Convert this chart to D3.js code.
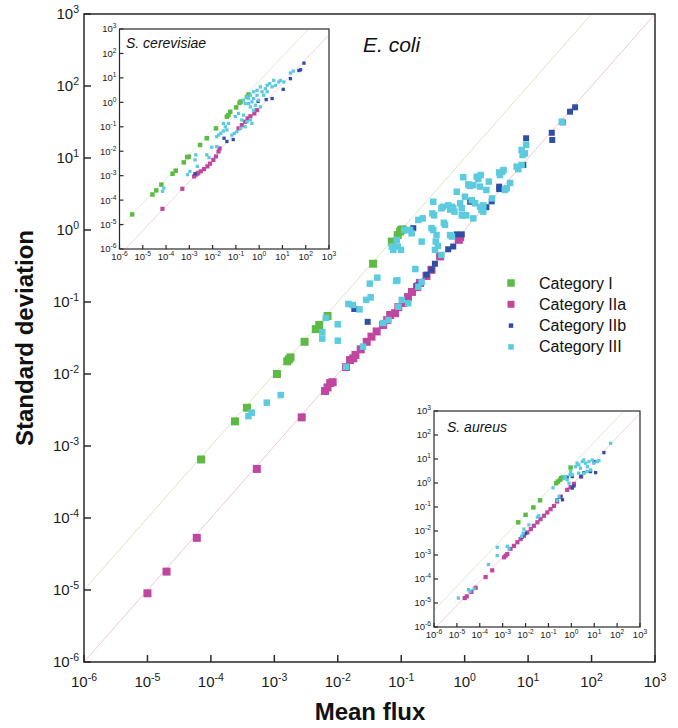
<!DOCTYPE html>
<meta charset="utf-8">
<body style="margin:0">
<script src="https://d3js.org/d3.v7.min.js"></script>
<script>

// Canvas size of the figure.

var width = 678,
    height = 728;

// Decade exponents used for ticks on every panel (10^-6 .. 10^3).

var tickExponents = [-6, -5, -4, -3, -2, -1, 0, 1, 2, 3];

var categories = ["Category I", "Category IIa", "Category IIb", "Category III"];

// E. coli (main panel): [mean flux, standard deviation]

var ecoliI = [[7e-5, 6.5e-4], [2.4e-4, 2.2e-3], [3.7e-4, 3.4e-3], [1.1e-3, 1.0e-2], [1.6e-3, 1.5e-2],
    [1.7e-3, 1.6e-2], [1.8e-3, 1.7e-2], [3.0e-3, 2.8e-2], [4.5e-3, 4.2e-2], [5.1e-3, 4.8e-2],
    [6.9e-3, 6.4e-2], [3.6e-2, 0.34], [7.1e-2, 0.69], [8.8e-2, 0.85], [9.6e-2, 0.95], [0.10, 1.0], [0.105, 1.02]];

var ecoliIIa = [[1.0e-5, 9.0e-6], [2.0e-5, 1.8e-5], [6.0e-5, 5.3e-5], [5.3e-4, 4.8e-4], [2.7e-3, 2.5e-3],
    [6.3e-3, 5.8e-3], [6.9e-3, 6.5e-3], [7.6e-3, 7.5e-3], [8.3e-3, 7.7e-3], [1.35e-2, 1.25e-2],
    [1.56e-2, 1.56e-2], [1.76e-2, 1.65e-2], [1.9e-2, 1.84e-2], [2.3e-2, 2.2e-2], [2.86e-2, 2.8e-2],
    [3.4e-2, 3.3e-2], [4.1e-2, 3.9e-2], [5.2e-2, 4.8e-2], [6.0e-2, 5.6e-2], [6.7e-2, 6.6e-2],
    [8.0e-2, 7.0e-2], [9.0e-2, 8.5e-2], [0.107, 0.097], [0.128, 0.117], [0.148, 0.138], [0.177, 0.161],
    [0.198, 0.184], [0.25, 0.23], [0.3, 0.28], [0.41, 0.43], [0.81, 0.73], [0.85, 0.8]];

var ecoliIIb = [[1.82e-2, 8.0e-2], [2.96e-2, 5.3e-2], [0.155, 1.06], [0.18, 0.17], [0.25, 0.24], [0.3, 0.28],
    [0.34, 0.34], [0.55, 0.54], [0.66, 0.59], [0.75, 0.87], [0.9, 0.87], [1.22, 2.47], [2.2, 2.07],
    [2.67, 2.5], [3.5, 3.7], [3.5, 4.0], [8.4, 8.0], [9.3, 18.8], [23.6, 22.4], [24, 17.8], [35, 31.3],
    [45.8, 44], [55, 50.6]];

var ecoliIII = [[3.9e-4, 2.6e-3], [4.4e-4, 2.9e-3], [7.6e-4, 4.0e-3], [1.26e-3, 5.1e-3], [5.7e-3, 3.8e-2],
    [5.7e-3, 3.1e-2], [6.5e-3, 6.0e-2], [1.0e-2, 4.9e-2], [1.0e-2, 2.9e-2], [1.35e-2, 1.26e-2],
    [1.47e-2, 9.4e-2], [1.72e-2, 9.1e-2], [2.2e-2, 7.9e-2], [2.5e-2, 2.4e-2], [2.8e-2, 0.107],
    [3.3e-2, 0.116], [3.2e-2, 0.18], [4.2e-2, 0.218], [5.2e-2, 5.1e-2], [6.3e-2, 5.6e-2], [8.3e-2, 0.196],
    [8.7e-2, 0.2], [9.0e-2, 8.6e-2], [0.102, 0.107], [0.129, 0.096], [0.167, 0.287], [0.186, 0.163],
    [0.21, 0.19], [7.1e-2, 0.59], [7.5e-2, 0.53], [8.5e-2, 0.73], [8.8e-2, 0.59], [0.099, 0.53],
    [0.112, 1.0], [0.138, 1.0], [0.146, 0.9], [0.186, 1.38], [0.21, 0.69], [0.218, 1.45], [0.30, 1.06],
    [0.32, 1.0], [0.36, 0.85], [0.35, 0.69], [0.38, 0.6], [0.34, 0.53], [0.43, 0.45], [0.32, 2.47],
    [0.31, 1.7], [0.33, 1.6], [0.43, 2.0], [0.45, 2.1], [0.47, 1.26], [0.49, 1.18], [0.55, 2.2],
    [0.63, 2.1], [0.59, 1.92], [0.66, 2.0], [0.69, 1.8], [0.59, 0.85], [0.63, 0.81], [0.75, 3.4],
    [0.85, 2.35], [0.9, 2.0], [0.95, 5.4], [1.01, 2.9], [0.9, 1.6], [0.95, 1.6], [1.06, 1.6], [1.14, 4.3],
    [1.21, 4.1], [1.37, 4.2], [1.29, 2.6], [1.46, 2.35], [1.37, 1.45], [1.55, 5.5], [1.64, 5.1],
    [1.79, 5.8], [1.75, 4.0], [1.97, 2.2], [1.75, 2.1], [2.2, 3.6], [2.4, 4.7], [1.85, 1.9], [1.97, 1.8],
    [2.7, 2.75], [3.5, 6.3], [3.6, 5.8], [4.1, 6.8], [3.9, 6.4], [4.6, 3.8], [4.3, 3.6], [5.2, 4.5],
    [6.6, 7.6], [7.0, 7.0], [7.9, 8.0], [8.2, 11.0], [8.9, 11.6], [7.9, 12.9], [9.3, 15.2], [33.9, 31.9]];

// S. cerevisiae (upper inset)

var cerevI = [[3.5e-6, 2.6e-5], [2.6e-5, 1.7e-4], [3.8e-5, 2.5e-4], [6.3e-5, 4.3e-4], [1.9e-4, 1.2e-3],
    [2.6e-4, 1.6e-3], [5.8e-4, 3.5e-3], [8.1e-4, 5.7e-3], [9.5e-4, 6.0e-3], [2.9e-3, 1.8e-2],
    [5.6e-3, 3.4e-2], [1.4e-2, 8.6e-2], [4.1e-2, 0.26], [4.8e-2, 0.3], [5.7e-2, 0.41], [0.103, 0.62],
    [0.144, 0.95], [0.16, 1.07], [0.30, 1.67], [0.35, 2.1]];

var cerevIIa = [[7e-5, 4.4e-5], [5e-4, 2.9e-4], [1.6e-3, 9.3e-4], [1.9e-3, 1.1e-3], [2.2e-3, 1.2e-3],
    [2.4e-3, 1.3e-3], [3.1e-3, 1.5e-3], [4.3e-3, 1.85e-3], [6.0e-3, 2.4e-3], [7.8e-3, 3.1e-3],
    [1.08e-2, 4.4e-3], [1.4e-2, 6.1e-3], [1.8e-2, 9.7e-3], [2.0e-2, 1.3e-2], [0.13, 8.6e-2],
    [0.18, 0.117], [0.25, 0.16], [0.32, 0.22], [0.42, 0.27], [0.62, 0.35], [0.81, 0.48]];

var cerevIIb = [[1.75e-3, 1.2e-3], [3.1e-2, 3.4e-2], [4.1e-2, 2.5e-2], [7.7e-2, 3.0e-2], [0.9, 1.1],
    [2.0, 1.3], [3.6, 1.43], [10.8, 3.4], [22, 9.3], [51, 20], [60, 21.5], [84, 40]];

var cerevIII = [[7e-5, 2.3e-4], [8e-5, 3.1e-4], [8.4e-4, 1.1e-3], [1.06e-3, 1.5e-3], [1.75e-3, 4.4e-3],
    [1.9e-3, 7.1e-3], [2.2e-3, 2.4e-3], [5.6e-3, 7.1e-3], [7.0e-3, 5.5e-3], [9.2e-3, 1.46e-2],
    [1.5e-2, 1.55e-2], [1.5e-2, 3.9e-2], [1.8e-2, 4.6e-2], [2.25e-2, 5.4e-2], [2.9e-2, 6.7e-2],
    [3.5e-2, 0.1], [4.8e-2, 0.137], [2.9e-2, 0.137], [4.1e-2, 7.4e-2], [6.7e-2, 4.6e-2], [8.5e-2, 5.4e-2],
    [0.11, 6.3e-2], [9.4e-2, 0.26], [0.13, 0.35], [0.18, 0.19], [0.21, 0.3], [0.16, 8.6e-2], [0.25, 0.1],
    [0.3, 0.16], [0.42, 0.19], [0.49, 0.137], [0.21, 1.22], [0.25, 0.89], [0.3, 1.67], [0.35, 1.43],
    [0.42, 1.95], [0.49, 1.04], [0.58, 2.7], [0.58, 1.43], [0.69, 0.76], [0.81, 3.1], [0.81, 1.95],
    [0.95, 1.22], [1.13, 4.3], [1.33, 2.7], [1.57, 1.95], [1.85, 3.6], [2.2, 5.0], [2.2, 2.7], [2.85, 5.8],
    [3.6, 4.3], [4.2, 7.9], [5.0, 5.0], [7.0, 6.8], [8.2, 7.9], [11.5, 6.8], [22, 15.8], [29, 19],
    [0.35, 0.89], [0.42, 0.65], [0.58, 0.48], [1.13, 0.65]];

// S. aureus (lower inset)

var aureusI = [[4.8e-3, 2.3e-2], [1.0e-2, 4.7e-2], [2.2e-2, 9.6e-2], [4.3e-2, 0.19], [0.22, 0.98],
    [0.26, 1.15], [0.32, 1.35], [0.36, 1.58], [0.43, 1.69], [0.93, 4.4]];

var aureusIIa = [[2.2e-5, 1.6e-5], [2.7e-5, 1.9e-5], [4.3e-5, 2.9e-5], [6.6e-5, 4.3e-5], [1.8e-4, 1.2e-4],
    [3.5e-4, 2.3e-4], [1.14e-3, 8.0e-4], [1.35e-3, 9.4e-4], [1.6e-3, 1.1e-3], [2.2e-3, 1.8e-3],
    [3.1e-3, 2.4e-3], [4.4e-3, 3.4e-3], [6.1e-3, 4.6e-3], [8.5e-3, 6.4e-3], [1.2e-2, 8.7e-3],
    [1.7e-2, 1.2e-2], [2.3e-2, 1.65e-2], [3.3e-2, 2.3e-2], [4.5e-2, 3.1e-2], [6.4e-2, 4.3e-2],
    [8.9e-2, 5.9e-2], [0.124, 8.1e-2], [0.174, 0.11], [0.24, 0.17], [0.34, 0.27], [0.66, 0.52],
    [0.93, 0.67], [1.3, 0.92], [2.7, 1.86]];

var aureusIIb = [[7.2e-3, 5.6e-3], [1.0e-2, 7.8e-3], [0.24, 0.2], [0.34, 0.27], [0.41, 0.2], [0.66, 1.74],
    [1.1, 0.62], [1.1, 1.86], [1.3, 0.75], [2.6, 1.86], [3.5, 2.7], [6.9, 3.0], [9.8, 7.8], [11.5, 2.7],
    [26.5, 18.5]];

var aureusIII = [[1.16e-5, 1.6e-5], [3.2e-5, 3.6e-5], [3.7e-5, 3.1e-5], [5.6e-5, 3.9e-5], [2.4e-4, 4.0e-4],
    [5.8e-4, 2.1e-3], [5.8e-4, 9.4e-4], [1.6e-3, 2.3e-3], [1.9e-3, 1.8e-3], [8.5e-3, 1.2e-2],
    [7.9e-3, 8.2e-3], [6.7e-3, 6.0e-3], [1.4e-2, 1.8e-2], [3.3e-2, 3.8e-2], [3.8e-2, 4.3e-2],
    [0.16, 0.63], [0.24, 0.19], [0.29, 0.27], [0.48, 1.58], [0.56, 1.86], [0.66, 1.35], [0.79, 0.98],
    [0.87, 2.2], [0.93, 3.0], [1.54, 4.8], [1.8, 6.7], [2.1, 5.7], [2.5, 4.1], [3.0, 7.8], [3.5, 9.1],
    [4.2, 6.7], [5.0, 4.8], [5.9, 7.8], [6.9, 3.5], [8.2, 9.1], [9.7, 6.7], [13.6, 7.8], [16, 8.6],
    [2.1, 2.55], [3.5, 2.55], [5.0, 3.0], [1.1, 2.2], [52, 45]];

// Reference lines (sd = ratio * mean) in each panel.

var ecoliRatios = [10, 1],
    cerevRatios = [7.5, 0.57],
    aureusRatios = [5, 0.8];

// Styles.

var colors = ["#5dbb45", "#c0479f", "#2f4fa4", "#5ccbe0"],
    lineColors = ["#cfe7bd", "#ecbfd6"],
    font = "Liberation Sans, Arial, sans-serif";

var svg = d3.select("body").append("svg")
    .attr("width", width)
    .attr("height", height)
    .style("background", "#fff");

// Draw one log-log panel.

function drawPanel(p) {
    var x = d3.scaleLog().domain([1e-6, 1e3]).range([p.x0, p.x1]);
    var y = d3.scaleLog().domain([1e-6, 1e3]).range([p.y1, p.y0]);
    var g = svg.append("g");

    g.append("rect")
        .attr("x", p.x0).attr("y", p.y0)
        .attr("width", p.x1 - p.x0).attr("height", p.y1 - p.y0)
        .attr("fill", "#fff");

    // Reference lines sd = r * mean, clipped to the domain.
    p.ratios.forEach(function(r, i) {
        var xa = Math.max(1e-6, 1e-6 / r),
            xb = Math.min(1e3, 1e3 / r);
        g.append("line")
            .attr("x1", x(xa)).attr("y1", y(xa * r))
            .attr("x2", x(xb)).attr("y2", y(xb * r))
            .attr("stroke", lineColors[i])
            .attr("stroke-width", p.lineWidth);
    });

    p.series.forEach(function(data, i) {
        var s = p.sizes[i];
        g.append("g").selectAll("rect")
            .data(data)
            .enter().append("rect")
            .attr("x", function(d) { return x(d[0]) - s / 2; })
            .attr("y", function(d) { return y(d[1]) - s / 2; })
            .attr("width", s)
            .attr("height", s)
            .attr("fill", colors[i]);
    });

    g.append("rect")
        .attr("x", p.x0).attr("y", p.y0)
        .attr("width", p.x1 - p.x0).attr("height", p.y1 - p.y0)
        .attr("fill", "none")
        .attr("stroke", "#2a2a2a")
        .attr("stroke-width", p.frameWidth);

    // Inward ticks and superscript labels.
    tickExponents.forEach(function(e) {
        var v = Math.pow(10, e);
        g.append("line")
            .attr("x1", x(v)).attr("x2", x(v))
            .attr("y1", p.y1).attr("y2", p.y1 - p.tick)
            .attr("stroke", "#2a2a2a").attr("stroke-width", p.frameWidth);
        g.append("line")
            .attr("x1", p.x0).attr("x2", p.x0 + p.tick)
            .attr("y1", y(v)).attr("y2", y(v))
            .attr("stroke", "#2a2a2a").attr("stroke-width", p.frameWidth);

        var tx = g.append("text")
            .attr("x", x(v))
            .attr("y", p.y1 + p.xLabelGap)
            .attr("text-anchor", "middle");
        powerLabel(tx, e, p.fs);

        var ty = g.append("text")
            .attr("x", p.x0 - p.yLabelGap)
            .attr("y", y(v) + p.fs * 0.36)
            .attr("text-anchor", "end");
        powerLabel(ty, e, p.fs);
    });

    g.append("text")
        .attr("x", p.titleX)
        .attr("y", p.titleY)
        .attr("font-family", font)
        .attr("font-style", "italic")
        .attr("font-size", p.titleSize)
        .attr("fill", "#111")
        .text(p.title);
}

function powerLabel(t, e, fs) {
    t.attr("font-family", font).attr("font-size", fs).attr("fill", "#1a1a1a");
    t.append("tspan").text("10");
    t.append("tspan")
        .attr("dy", -fs * 0.42)
        .attr("font-size", fs * 0.7)
        .text(String(e));
}

drawPanel({
    x0: 84, x1: 655, y0: 14, y1: 662,
    tick: 7, fs: 15, xLabelGap: 25, yLabelGap: 5,
    frameWidth: 1.5, lineWidth: 0.9,
    ratios: ecoliRatios,
    series: [ecoliI, ecoliIIa, ecoliIIb, ecoliIII],
    sizes: [8, 8, 6, 6.5],
    title: "E. coli", titleX: 363, titleY: 52, titleSize: 21
});

// Legend.

var legendSizes = [7.5, 7, 4.5, 5.5];

var legend = svg.append("g").selectAll("g")
    .data(categories)
    .enter().append("g")
    .attr("transform", function(d, i) { return "translate(511," + (283 + i * 21.3) + ")"; });

legend.append("rect")
    .attr("x", function(d, i) { return -legendSizes[i] / 2; })
    .attr("y", function(d, i) { return -legendSizes[i] / 2; })
    .attr("width", function(d, i) { return legendSizes[i]; })
    .attr("height", function(d, i) { return legendSizes[i]; })
    .attr("fill", function(d, i) { return colors[i]; });

legend.append("text")
    .attr("x", 28)
    .attr("y", 5.5)
    .attr("font-family", font)
    .attr("font-size", 16)
    .attr("fill", "#111")
    .text(function(d) { return d; });

drawPanel({
    x0: 119.5, x1: 329, y0: 29, y1: 249,
    tick: 4, fs: 9.5, xLabelGap: 11, yLabelGap: 3,
    frameWidth: 1.2, lineWidth: 0.7,
    ratios: cerevRatios,
    series: [cerevI, cerevIIa, cerevIIb, cerevIII],
    sizes: [4.5, 4.2, 3.3, 3.3],
    title: "S. cerevisiae", titleX: 126, titleY: 48, titleSize: 14
});

drawPanel({
    x0: 434, x1: 640, y0: 411, y1: 627,
    tick: 4, fs: 9.5, xLabelGap: 11, yLabelGap: 3,
    frameWidth: 1.2, lineWidth: 0.7,
    ratios: aureusRatios,
    series: [aureusI, aureusIIa, aureusIIb, aureusIII],
    sizes: [4.5, 4.2, 3.3, 3.3],
    title: "S. aureus", titleX: 447, titleY: 432, titleSize: 14
});

// Axis titles.

svg.append("text")
    .attr("transform", "translate(33,338) rotate(-90)")
    .attr("text-anchor", "middle")
    .attr("font-family", font)
    .attr("font-weight", "bold")
    .attr("font-size", 24)
    .attr("fill", "#111")
    .text("Standard deviation");

svg.append("text")
    .attr("x", 370)
    .attr("y", 720)
    .attr("text-anchor", "middle")
    .attr("font-family", font)
    .attr("font-weight", "bold")
    .attr("font-size", 24)
    .attr("fill", "#111")
    .text("Mean flux");

</script>
